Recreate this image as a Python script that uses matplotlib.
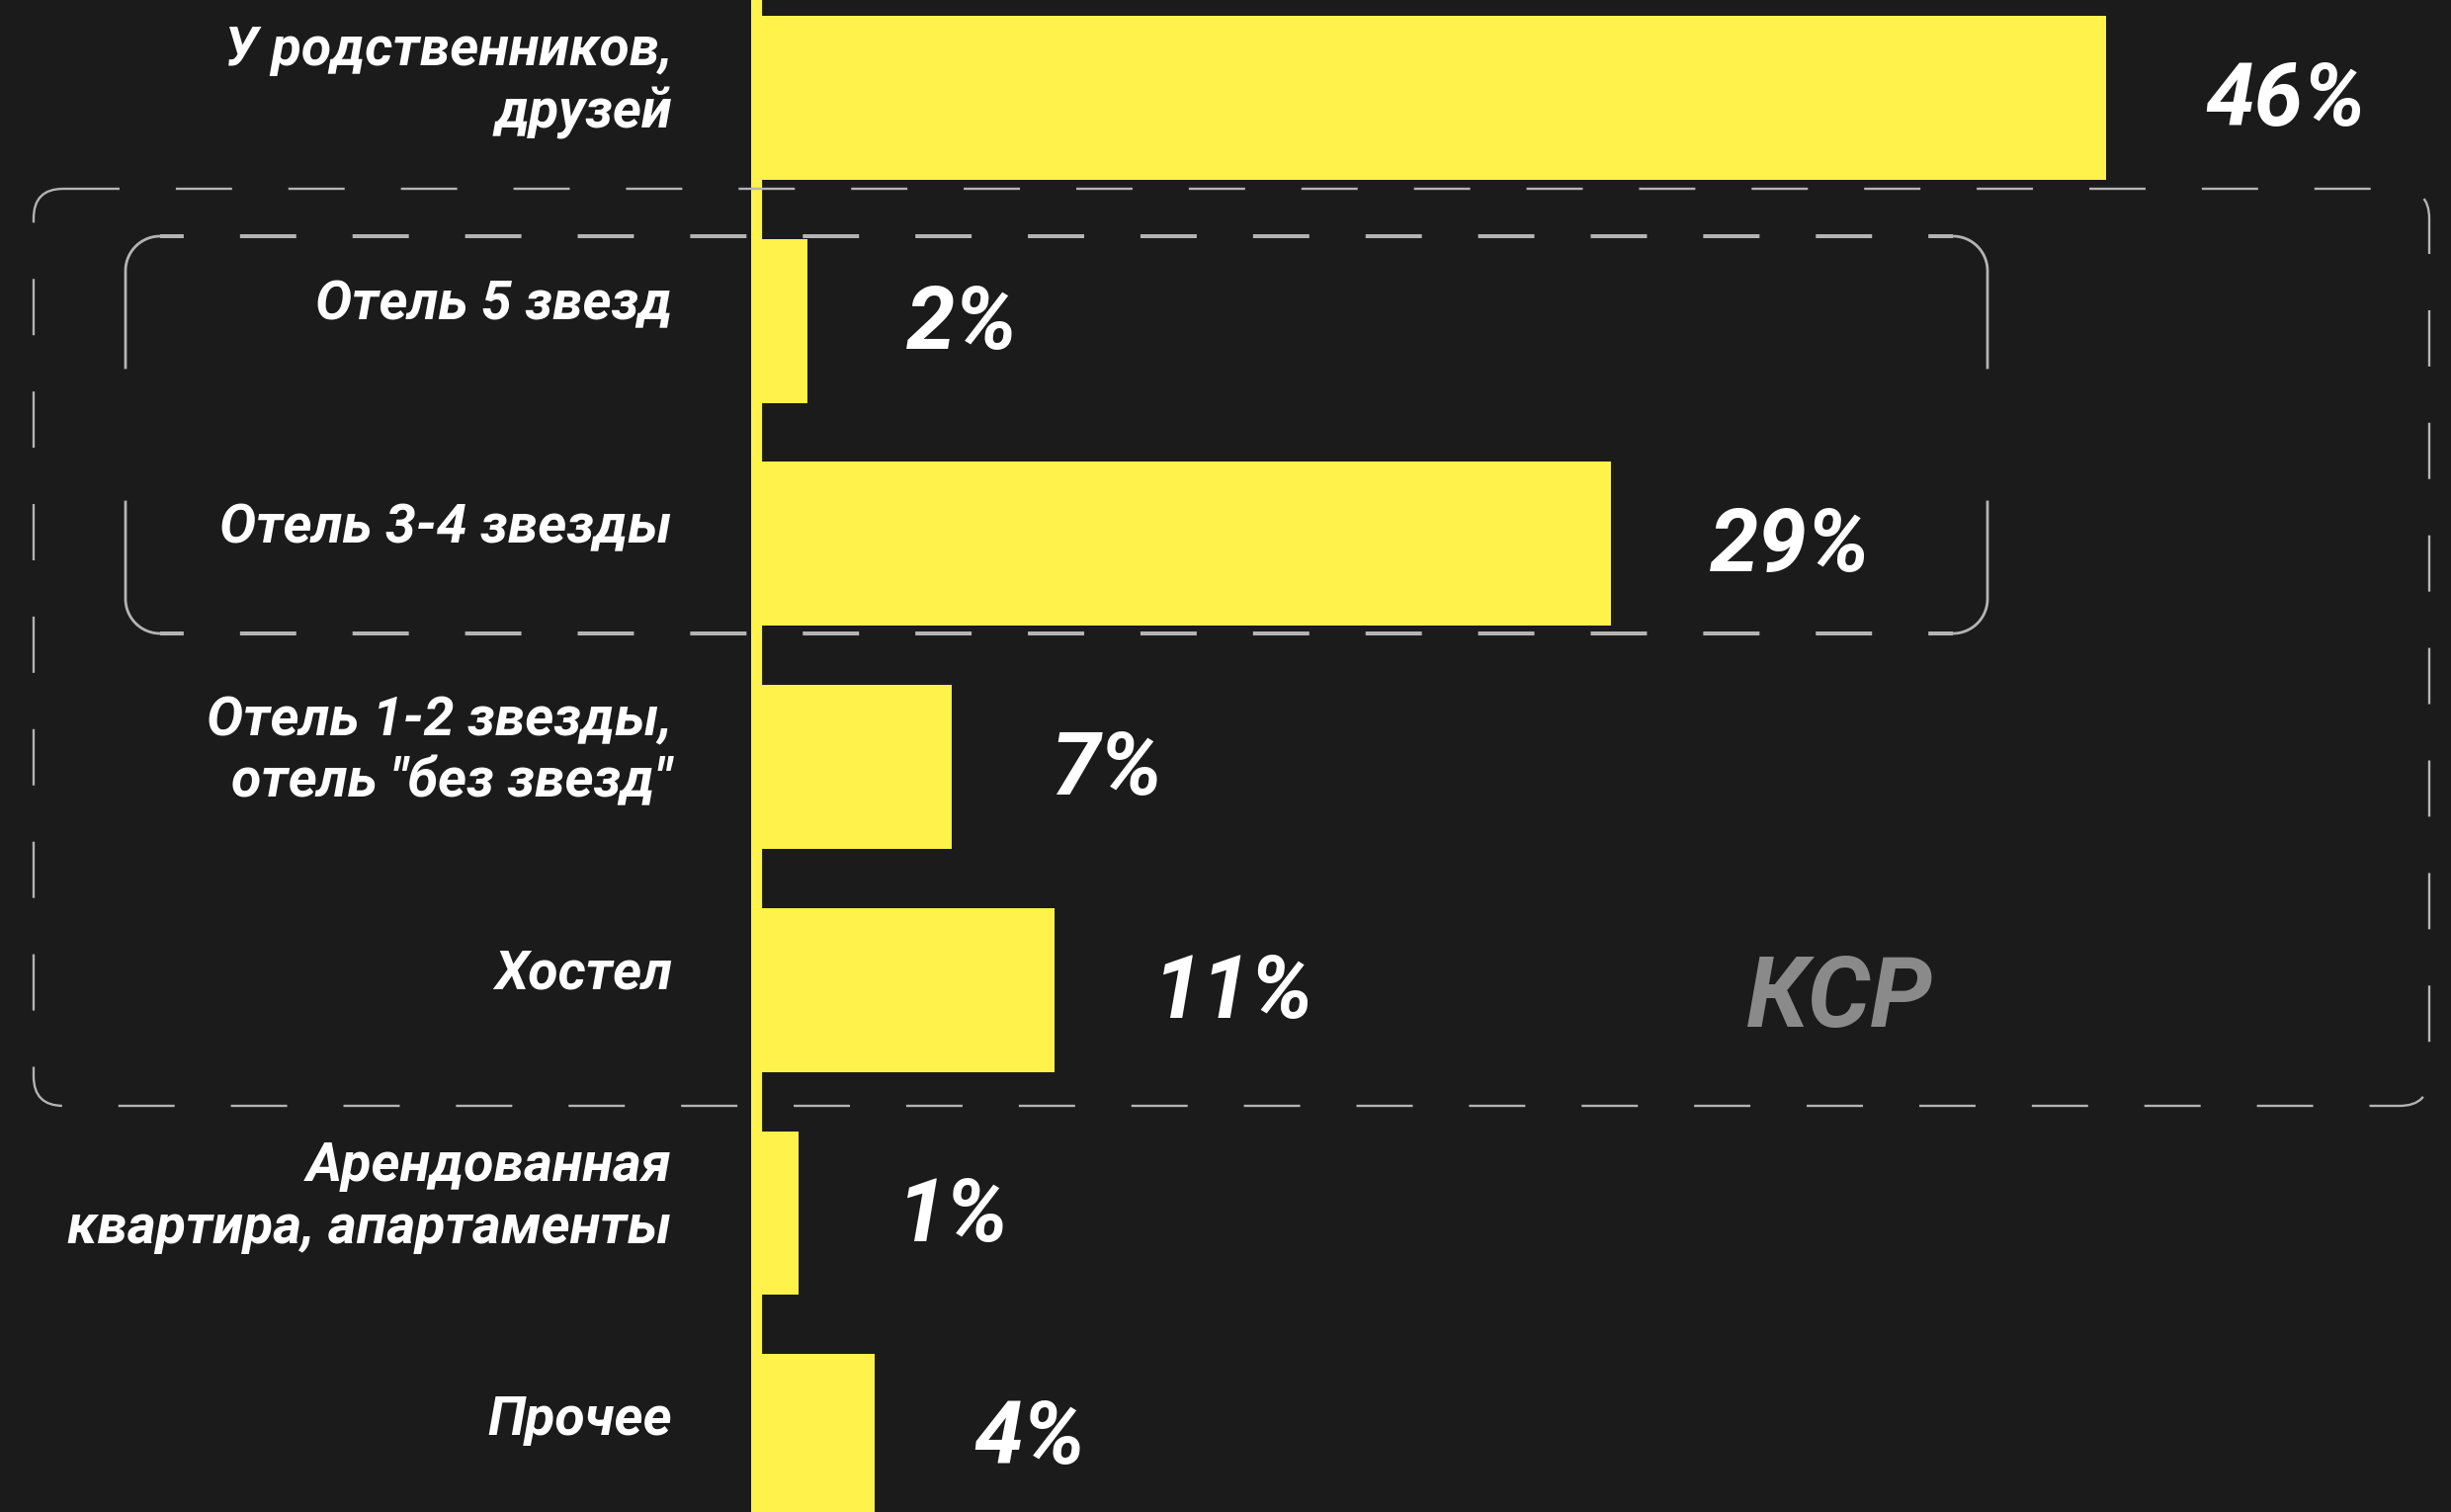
import matplotlib
matplotlib.use("Agg")
import matplotlib.pyplot as plt
from matplotlib.patches import FancyBboxPatch
import numpy as np

# data
categories = [
    "У родственников,\nдрузей",
    "Отель 5 звезд",
    "Отель 3-4 звезды",
    "Отель 1-2 звезды,\nотель \"без звезд\"",
    "Хостел",
    "Арендованная\nквартира, апартаменты",
    "Прочее",
]
values = [46.0, 1.9, 29.2, 6.8, 10.3, 1.6, 4.2]
value_labels = ["46%", "2%", "29%", "7%", "11%", "1%", "4%"]
group_label = "КСР"

BG = "#1b1b1b"
YELLOW = "#fff24a"
DASH = "#b4b4b4"
KSR_GRAY = "#8a8a8a"

plt.rcParams["font.family"] = ["Roboto", "DejaVu Sans"]
plt.rcParams["lines.scale_dashes"] = False
FONT = dict(weight="bold", style="italic")

W, H = 2480, 1530
fig = plt.figure(figsize=(W / 100, H / 100), dpi=100, facecolor=BG)

# main bar axes: starts at the yellow axis line
x_axis_px = 760
px_per_unit = 29.8
ax = fig.add_axes([x_axis_px / W, 0, 1 - x_axis_px / W, 1])
ax.set_facecolor(BG)
y = np.arange(len(categories))
ax.barh(y, values, height=0.735, color=YELLOW, zorder=2)
ax.axvline(0, color=YELLOW, lw=16, zorder=2)
ax.set_xlim(0, (W - x_axis_px) / px_per_unit)
ax.set_ylim(6.340, -0.4386)
for s in ax.spines.values():
    s.set_visible(False)
ax.set_xticks([])
ax.set_yticks([])

for i, (cat, v, lab) in enumerate(zip(categories, values, value_labels)):
    ax.annotate(cat, (0, i), xytext=(-80, 16), textcoords="offset pixels",
                ha="right", va="center", color="white", fontsize=40,
                linespacing=1.25, annotation_clip=False, **FONT)
    ax.annotate(lab, (v, i), xytext=(100, -28), textcoords="offset pixels",
                ha="left", va="baseline", color="white", fontsize=64,
                annotation_clip=False, **FONT)

# overlay in pixel coordinates for the dashed group frames
ov = fig.add_axes([0, 0, 1, 1], zorder=5)
ov.set_xlim(0, W)
ov.set_ylim(H, 0)
ov.axis("off")
ov.patch.set_alpha(0)

# outer frame (КСР)
outer = FancyBboxPatch((34, 191), 2424, 928, boxstyle="round,pad=0,rounding_size=30",
                       fill=False, ec=DASH, lw=1.7, linestyle=(0, (41, 41)))
ov.add_patch(outer)

# inner frame (hotels 3-5 stars)
x0, x1, y0, y1, r = 127, 2011, 239, 641, 35
for yy in (y0, y1):
    ov.plot([x0 + r, x1 - r], [yy, yy], color=DASH, lw=2.9,
            linestyle=(23.8, (41, 41)), solid_capstyle="butt")

t = np.linspace(0, np.pi / 2, 30)


def arc(cx, cy, sx, sy):
    return cx + sx * r * np.sin(t), cy + sy * r * np.cos(t)


# left top / bottom, right top / bottom
ax_, ay_ = arc(x0 + r, y0 + r, -1, -1)
ov.plot(np.r_[ax_, x0], np.r_[ay_, 372], color=DASH, lw=2)
ax_, ay_ = arc(x0 + r, y1 - r, -1, 1)
ov.plot(np.r_[ax_, x0], np.r_[ay_, 508], color=DASH, lw=2)
ax_, ay_ = arc(x1 - r, y0 + r, 1, -1)
ov.plot(np.r_[ax_, x1], np.r_[ay_, 372], color=DASH, lw=2)
ax_, ay_ = arc(x1 - r, y1 - r, 1, 1)
ov.plot(np.r_[ax_, x1], np.r_[ay_, 508], color=DASH, lw=2)

ov.text(1861, 1012, group_label, ha="center", va="center", color=KSR_GRAY,
        fontsize=72, **FONT)

fig.savefig("out.png", dpi=100, facecolor=BG)
